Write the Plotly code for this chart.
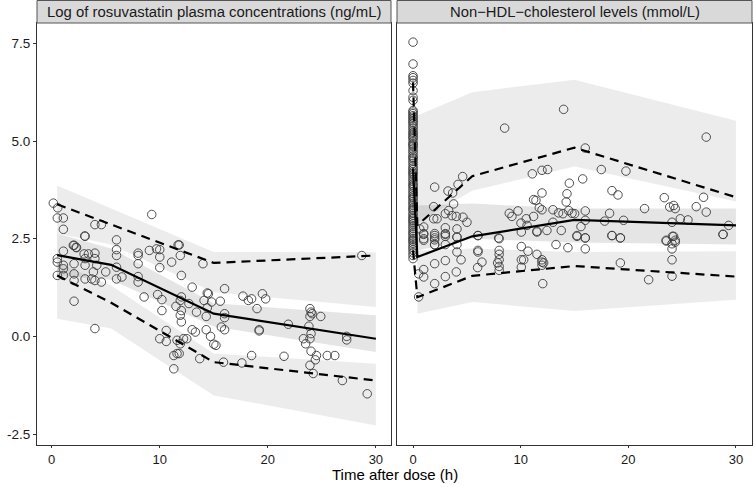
import plotly.graph_objects as go

# VPC bins (time, h)
bin_l = [0.5, 5.5, 15, 30]
bin_r = [0.4, 5.5, 15, 30]

# left panel: log rosuvastatin
l_med = [2.08, 1.83, 0.58, -0.06]
l_p95 = [3.38, 2.86, 1.88, 2.07]
l_p05 = [1.56, 0.86, -0.66, -1.13]
l_hi_lo = [2.63, 2.35, 1.13, 0.75]
l_hi_hi = [3.86, 3.28, 2.16, 2.15]
l_md_lo = [1.55, 1.45, 0.25, -0.40]
l_md_hi = [2.63, 2.25, 0.85, 0.54]
l_lo_lo = [0.45, 0.20, -1.51, -2.28]
l_lo_hi = [1.90, 1.30, -0.44, -0.70]

# right panel: non-HDL cholesterol (lines also have a t=0 point)
r_line_t = [0, 0.4, 5.5, 15, 30]
r_med = [4.3, 2.03, 2.56, 2.98, 2.84]
r_p95 = [6.5, 2.84, 4.10, 4.83, 3.56]
r_p05 = [2.2, 1.00, 1.55, 1.80, 1.53]
r_hi_lo = [2.90, 3.73, 4.35, 3.45]
r_hi_hi = [5.65, 6.25, 6.57, 5.52]
r_md_lo = [2.20, 2.50, 2.40, 2.35]
r_md_hi = [3.35, 3.40, 3.27, 3.27]
r_lo_lo = [0.58, 0.88, 0.65, 0.94]
r_lo_hi = [2.20, 2.25, 2.16, 2.18]

# observed points
left_t = [0.15, 0.56, 0.52, 1.08, 1.08, 4.0, 4.6, 9.26, 3.06, 6.0, 11.7, 2.07, 2.25,
          3.09, 6.0, 6.0, 2.0, 2.3, 0.52, 1.08, 0.52, 1.08, 1.08, 1.08, 0.52, 2.07,
          2.07, 2.07, 2.07, 3.0, 3.4, 4.0, 4.0, 3.09, 3.09, 4.17, 3.86, 3.09, 3.7,
          4.0, 4.6, 5.0, 6.0, 6.0, 6.5, 4.0, 8.0, 8.0, 8.0, 8.0, 8.0, 8.55, 9.04,
          9.7, 10.0, 10.0, 10.0, 9.8, 10.2, 10.2, 11.1, 11.8, 11.9, 12.0, 10.6, 10.0,
          10.6, 11.3, 11.3, 11.6, 11.8, 11.5, 11.9, 12.0, 12.0, 11.9, 12.0, 11.6,
          11.9, 12.2, 13.0, 12.7, 13.0, 13.3, 12.5, 13.4, 13.7, 14.0, 14.1, 14.4,
          14.5, 14.4, 14.3, 14.3, 14.7, 14.8, 15.0, 15.2, 15.6, 15.7, 16.0, 16.0,
          16.0, 16.0, 15.9, 17.7, 18.2, 18.5, 19.0, 18.5, 17.6, 19.2, 19.2, 19.5,
          19.8, 21.5, 21.9, 23.3, 23.5, 23.8, 23.9, 24.0, 23.9, 24.1, 23.9, 24.0,
          24.0, 23.9, 24.4, 24.5, 24.2, 24.9, 25.5, 26.2, 26.9, 27.3, 27.3, 28.7, 29.2]
left_v = [3.41, 3.29, 3.03, 3.03, 2.74, 2.86, 2.86, 3.12, 2.57, 2.47, 2.34, 2.33, 2.28,
          2.56, 2.22, 2.07, 2.33, 2.27, 1.99, 2.18, 1.90, 1.82, 1.73, 1.56, 1.56, 1.86,
          1.60, 1.43, 0.90, 2.11, 2.11, 2.13, 1.99, 1.99, 1.82, 1.82, 1.65, 1.47, 1.47,
          1.43, 1.39, 1.65, 1.77, 1.47, 1.52, 0.20, 2.13, 2.07, 1.86, 1.53, 1.39, 1.01,
          2.20, 2.24, 2.22, 2.03, 1.76, 1.07, 0.94, 0.66, 1.90, 2.34, 2.07, 1.56, 0.15,
          -0.06, -0.13, -0.49, -0.83, -0.44, -0.44, 0.77, 0.92, 1.01, 0.66, 0.54, 0.37,
          -0.10, -0.19, -0.06, 1.26, 0.84, 0.17, 0.11, -0.06, 0.62, -0.57, 1.86, 0.92,
          1.11, 1.09, 0.73, 0.51, 0.17, 0.0, 0.88, -0.20, -0.23, 0.90, 0.24, 1.22, 0.58,
          0.48, 0.17, -0.66, 1.03, 0.92, 0.96, 0.71, -0.49, -0.68, 0.17, 0.14, 1.09,
          0.96, -0.51, 0.31, -0.06, -0.19, 0.26, 0.71, 0.62, 0.51, 0.58, -0.06, 0.07,
          -0.38, -0.74, -0.60, -0.49, -0.95, 0.51, -0.49, -0.49, -1.13, 0.0, -0.09,
          2.07, -1.47]

# pre-dose (t = 0) cholesterol values, very dense column
right_t0_v = [7.53, 6.97, 6.67, 6.62, 6.55, 6.48, 6.29, 6.12, 6.04, 5.78, 5.74, 5.70,
              5.65, 5.61, 5.57, 5.52, 5.48, 5.44, 5.38, 5.33, 5.27, 5.22, 5.18, 5.13,
              5.09, 5.05, 4.98, 4.93, 4.90, 4.86, 4.80, 4.74, 4.69, 4.62, 4.58, 4.55,
              4.49, 4.43, 4.37, 4.31, 4.27, 4.22, 4.18, 4.14, 4.08, 4.02, 3.97, 3.91,
              3.87, 3.83, 3.77, 3.71, 3.66, 3.60, 3.56, 3.52, 3.46, 3.41, 3.36, 3.30,
              3.26, 3.22, 3.15, 3.10, 3.05, 3.01, 2.97, 2.93, 2.88, 2.82, 2.77, 2.71,
              2.66, 2.62, 2.56, 2.51, 2.47, 2.43, 2.38, 2.32, 2.27, 2.21, 2.14, 2.07,
              1.99]
right_t = [2.01, 3.25, 3.68, 3.77, 4.18, 4.61, 1.92, 8.51, 13.99, 16.0, 27.24, 11.08,
           11.98, 12.5, 14.52, 15.76, 17.49, 19.78, 14.3, 14.23, 18.48, 19.04, 23.34,
           24.21, 24.36, 26.31, 26.99, 27.24, 11.98, 11.2, 11.42, 11.73, 11.98, 8.94,
           9.19, 9.75, 10.52, 11.2, 10.03, 10.59, 11.51, 12.44, 13.0, 13.52, 13.93,
           14.46, 14.77, 15.01, 16.0, 16.0, 15.6, 18.26, 17.8, 19.56, 21.51, 23.85,
           24.06, 24.83, 25.54, 29.32, 28.8, 23.52, 24.1, 24.36, 18.48, 19.26, 15.23,
           16.0, 7.95, 6.03, 13.77, 13.0, 4.08, 4.08, 3.0, 3.0, 2.01, 2.01, 2.01, 0.99,
           0.99, 0.99, 0.62, 1.92, 2.23, 3.0, 3.31, 3.62, 4.02, 4.64, 5.01, 3.0,
           0.99, 0.99, 2.01, 2.01, 2.01, 3.0, 3.0, 4.08, 4.08, 4.08, 4.46, 3.0, 2.01,
           0.99, 0.99, 0.52, 3.0, 4.02, 2.01, 6.03, 6.03, 6.03, 6.4, 6.0, 8.0, 8.0,
           8.0, 8.0, 7.86, 8.0, 8.0, 10.06, 10.06, 10.06, 10.28, 10.06, 10.68, 11.51,
           11.51, 11.98, 11.98, 11.98, 12.13, 12.05, 13.28, 14.39, 15.23, 16.0, 16.0,
           18.48, 19.26, 19.26, 21.89, 23.52, 24.06, 24.06, 24.06, 24.06, 24.21,
           24.36, 28.8, 0.52]
right_v = [3.82, 3.72, 3.67, 3.39, 3.89, 4.09, 3.32, 5.33, 5.81, 4.82, 5.10, 4.16,
           4.25, 4.27, 3.92, 4.03, 4.27, 4.23, 3.65, 3.44, 3.73, 3.62, 3.55, 3.35,
           3.27, 3.32, 3.56, 3.18, 3.67, 3.50, 3.48, 3.29, 3.24, 3.15, 3.07, 3.21,
           3.01, 3.07, 2.90, 2.84, 2.69, 2.71, 3.24, 3.16, 3.14, 3.22, 3.15, 3.14,
           3.21, 2.97, 2.81, 3.15, 2.95, 2.97, 3.27, 3.31, 2.92, 3.01, 2.98, 2.84,
           2.61, 2.46, 2.56, 2.46, 2.58, 2.52, 2.56, 2.52, 2.52, 2.58, 2.71, 2.92,
           2.75, 2.54, 2.63, 2.56, 2.63, 2.52, 2.34, 2.63, 2.46, 2.80, 2.75, 3.01,
           3.01, 3.14, 3.22, 3.09, 3.07, 3.05, 2.92, 2.78,
           2.61, 2.50, 2.58, 2.47, 2.35, 2.61, 2.35, 2.54, 2.35, 2.16, 1.96, 1.94,
           1.86, 1.71, 1.52, 1.60, 1.53, 1.65, 1.35, 2.58, 2.20, 2.16, 1.90, 1.76,
           2.50, 2.20, 2.10, 1.96, 1.88, 1.79, 1.69, 2.67, 2.30, 1.96, 1.96, 1.77,
           2.18, 2.67, 2.10, 1.96, 1.90, 1.82, 1.88, 1.35, 2.35, 2.27, 2.58, 2.52,
           2.24, 2.58, 2.52, 1.88, 1.45, 2.44, 2.37, 2.24, 1.96, 1.54, 2.56, 2.41,
           2.61, 1.01]

LIGHT = "rgba(0,0,0,0.075)"
MID = "rgba(0,0,0,0.10)"
FONT = "Liberation Sans, Arial, sans-serif"

fig = go.Figure()


def band(t, lo, hi, color, xa, ya):
    fig.add_trace(go.Scatter(x=t + t[::-1], y=hi + lo[::-1], fill="toself",
                             fillcolor=color, line=dict(width=0), mode="lines",
                             hoverinfo="skip", xaxis=xa, yaxis=ya))


def line(t, v, dash, xa, ya):
    fig.add_trace(go.Scatter(x=t, y=v, mode="lines",
                             line=dict(color="black", width=2.2, dash=dash),
                             xaxis=xa, yaxis=ya))


band(bin_l, l_hi_lo, l_hi_hi, LIGHT, "x", "y")
band(bin_l, l_lo_lo, l_lo_hi, LIGHT, "x", "y")
band(bin_l, l_md_lo, l_md_hi, MID, "x", "y")
band(bin_r, r_hi_lo, r_hi_hi, LIGHT, "x2", "y2")
band(bin_r, r_lo_lo, r_lo_hi, LIGHT, "x2", "y2")
band(bin_r, r_md_lo, r_md_hi, MID, "x2", "y2")

mk = dict(symbol="circle-open", size=8.5, color="#3c3c3c", line=dict(width=0.9))
fig.add_trace(go.Scatter(x=left_t, y=left_v, mode="markers", marker=mk, xaxis="x", yaxis="y"))
fig.add_trace(go.Scatter(x=[0] * len(right_t0_v), y=right_t0_v, mode="markers", marker=mk,
                         xaxis="x2", yaxis="y2"))
fig.add_trace(go.Scatter(x=right_t, y=right_v, mode="markers", marker=mk, xaxis="x2", yaxis="y2"))

line(bin_l, l_med, "solid", "x", "y")
line(bin_l, l_p95, "9px,6px", "x", "y")
line(bin_l, l_p05, "9px,6px", "x", "y")
line(r_line_t, r_med, "solid", "x2", "y2")
line(r_line_t, r_p95, "9px,6px", "x2", "y2")
line(r_line_t, r_p05, "9px,6px", "x2", "y2")

W, H = 753, 487
lx0, lx1, rx0, rx1 = 37 / W, 391 / W, 397 / W, 752 / W
yb, yt = 1 - 445 / H, 1 - 23 / H

ax = dict(showline=True, mirror=True, linecolor="#333333", linewidth=1, showgrid=False,
          zeroline=False, ticks="outside", ticklen=3, tickcolor="#333333",
          tickfont=dict(size=13.5, color="#1a1a1a", family=FONT), automargin=False)
fig.update_layout(
    width=W, height=H, showlegend=False, plot_bgcolor="white", paper_bgcolor="white",
    margin=dict(l=0, r=0, t=0, b=0),
    xaxis=dict(ax, domain=[lx0, lx1], range=[-1.36, 31.4], tickvals=[0, 10, 20, 30],
               tickfont=dict(size=13, color="#1a1a1a", family=FONT), ticklen=2),
    xaxis2=dict(ax, domain=[rx0, rx1], range=[-1.49, 31.49], tickvals=[0, 10, 20, 30],
                anchor="y2", tickfont=dict(size=13, color="#1a1a1a", family=FONT), ticklen=2),
    yaxis=dict(ax, domain=[yb, yt], range=[-2.78, 8.02], tickvals=[-2.5, 0, 2.5, 5, 7.5],
               ticktext=["-2.5", "0.0", "2.5", "5.0", "7.5"]),
    yaxis2=dict(ax, domain=[yb, yt], range=[-2.78, 8.02], anchor="x2", ticks="",
                showticklabels=False),
)

# facet strips
for x0, x1, label, fs in [(lx0, lx1, "Log of rosuvastatin plasma concentrations (ng/mL)", 14.9),
                          (rx0, rx1, "Non\u2212HDL\u2212cholesterol levels (mmol/L)", 14.8)]:
    fig.add_shape(type="rect", xref="paper", yref="paper", x0=x0, x1=x1, y0=yt, y1=1 - 0.5 / H,
                  fillcolor="#d9d9d9", line=dict(color="#555555", width=1))
    fig.add_annotation(x=(x0 + x1) / 2, y=(yt + 1) / 2, xref="paper", yref="paper",
                       text=label, showarrow=False, xanchor="center", yanchor="middle",
                       font=dict(size=fs, color="#1a1a1a", family=FONT))

fig.add_annotation(x=395 / W, y=1 - 474 / H, xref="paper", yref="paper", text="Time after dose (h)",
                   showarrow=False, xanchor="center", yanchor="middle",
                   font=dict(size=15, color="black", family=FONT))

fig.write_html("out.html", config={"displayModeBar": False},
               post_script="document.body.style.margin='0';")
